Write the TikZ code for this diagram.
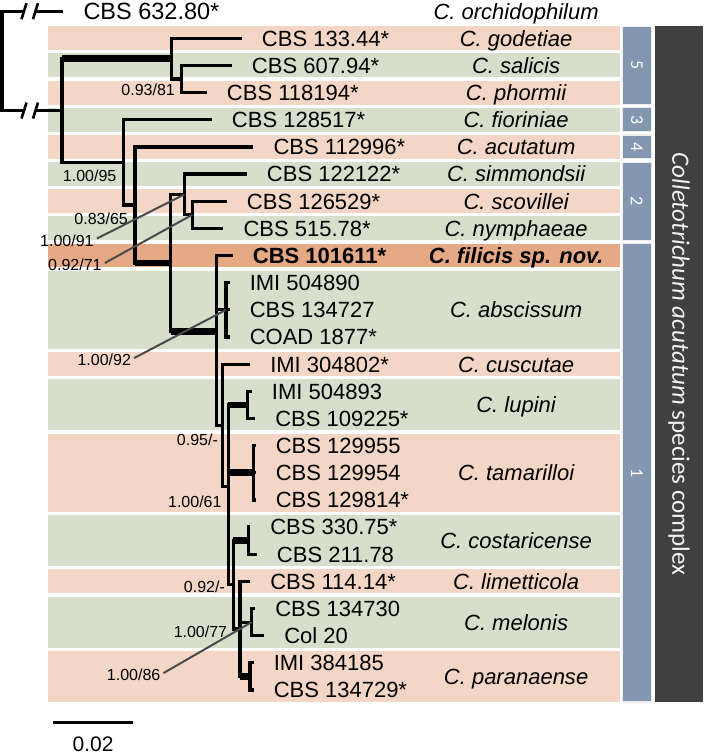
\documentclass[tikz,border=0pt]{standalone}
\usepackage{fontspec}
\setmainfont{Liberation Sans}
\newfontfamily\barfont{Carlito}
\usepackage{xcolor}
\usepackage{tikz}
\usetikzlibrary{positioning}
\definecolor{BandOrange}{RGB}{243,214,197}
\definecolor{BandGreen}{RGB}{215,223,204}
\definecolor{NewOrange}{RGB}{229,169,133}
\definecolor{CladeBlue}{RGB}{132,151,176}
\definecolor{ComplexGrey}{RGB}{64,64,64}
\definecolor{PointerGrey}{RGB}{75,75,75}

\begin{document}
\begin{tikzpicture}[x=1pt,y=-27.15pt,
node distance=20pt,
br/.style={line width=3.2pt},
thk/.style={line width=6.6pt},
brk/.style={line width=2.6pt},
ptr/.style={draw=PointerGrey,line width=2pt},
strain/.style={inner sep=0pt,text height=15.8pt,text depth=0pt,font=\fontsize{22}{26}\selectfont},
taxon/.style={strain,font=\fontsize{22}{26}\selectfont\itshape},
supp/.style={inner sep=0pt,text height=11.5pt,text depth=0pt,font=\fontsize{16}{19}\selectfont},
clade/.style={fill=CladeBlue,draw=black!7,line width=1.2pt},
num/.style={rotate=-90,text=white,font=\barfont\fontsize{18}{20}\selectfont}
]
\useasboundingbox (0,-1.41) rectangle (703,26.43);

% row bands
\fill[BandOrange] (48,-0.44) rectangle (620,0.44);
\fill[BandGreen] (48,0.56) rectangle (620,1.44);
\fill[BandOrange] (48,1.56) rectangle (620,2.44);
\fill[BandGreen] (48,2.56) rectangle (620,3.44);
\fill[BandOrange] (48,3.56) rectangle (620,4.44);
\fill[BandGreen] (48,4.56) rectangle (620,5.44);
\fill[BandOrange] (48,5.56) rectangle (620,6.44);
\fill[BandGreen] (48,6.56) rectangle (620,7.44);
\fill[NewOrange] (48,7.56) rectangle (620,8.44);
\fill[BandGreen] (48,8.56) rectangle (620,11.44);
\fill[BandOrange] (48,11.56) rectangle (620,12.44);
\fill[BandGreen] (48,12.56) rectangle (620,14.44);
\fill[BandOrange] (48,14.56) rectangle (620,17.44);
\fill[BandGreen] (48,17.56) rectangle (620,19.44);
\fill[BandOrange] (48,19.56) rectangle (620,20.44);
\fill[BandGreen] (48,20.56) rectangle (620,22.44);
\fill[BandOrange] (48,22.56) rectangle (620,24.44);

% clade bars
\filldraw[clade] (622.3,-0.44) rectangle (651,2.44);
\filldraw[clade] (622.3,2.56) rectangle (651,3.44);
\filldraw[clade] (622.3,3.56) rectangle (651,4.44);
\filldraw[clade] (622.3,4.56) rectangle (651,7.44);
\filldraw[clade] (622.3,7.56) rectangle (651,24.44);
\node[num] (g5) at (636.7,1) {5};
\node[num] (g3) at (636.7,3) {3};
\node[num] (g4) at (636.7,4) {4};
\node[num] (g2) at (636.7,6) {2};
\node[num] (g1) at (636.7,16) {1};
\fill[ComplexGrey] (654.5,-0.44) rectangle (703,24.44);
\node[rotate=-90,text=black!5,font=\barfont\fontsize{25}{30}\selectfont] (complex) at (679,12) {\textit{Colletotrichum acutatum} species complex};

% internal nodes
\coordinate (root) at (2,0.83);
\coordinate (bk1) at (24,-1); \coordinate (bk2) at (35.5,-1);
\coordinate (bk3) at (24,2.66); \coordinate (bk4) at (35.5,2.66);
\coordinate (n5) at (62,2.66);
\coordinate (s5) at (171.7,0.75);
\coordinate (sp) at (181.7,1.5);
\coordinate (n4) at (123.3,4.57);
\coordinate (n3) at (135,6.14);
\coordinate (n2) at (170.7,8.275);
\coordinate (sm) at (184.3,5.75);
\coordinate (sn) at (192.3,6.5);
\coordinate (v1) at (216.7,10.8);
\coordinate (ab) at (226,10);
\coordinate (v2) at (222.5,14.25);
\coordinate (v3) at (228.3,16.5);
\coordinate (lu) at (247.7,13.5);
\coordinate (ta) at (253.3,16);
\coordinate (v4) at (233.3,20.125);
\coordinate (co) at (248.3,18.5);
\coordinate (v5) at (240,21.75);
\coordinate (me) at (251.7,21.5);
\coordinate (pa) at (250,23.5);

% tips
\coordinate (tout) at (63.3,-1);
\coordinate (t0) at (241.7,0); \coordinate (t1) at (231.7,1); \coordinate (t2) at (206.7,2);
\coordinate (t3) at (211.7,3); \coordinate (t4) at (253.3,4); \coordinate (t5) at (246.7,5);
\coordinate (t6) at (226.7,6); \coordinate (t7) at (223.3,7); \coordinate (t8) at (232.7,8);
\coordinate (t9) at (229.5,9); \coordinate (t10) at (229.5,10); \coordinate (t11) at (229.5,11);
\coordinate (t12) at (250,12); \coordinate (t13) at (251.7,13); \coordinate (t14) at (255,14);
\coordinate (t15) at (255.5,15); \coordinate (t16) at (255.5,16); \coordinate (t17) at (255.5,17);
\coordinate (t18) at (250,18); \coordinate (t19) at (256.7,19); \coordinate (t20) at (250,20);
\coordinate (t21) at (255,21); \coordinate (t22) at (264,22);
\coordinate (t23) at (253.5,23); \coordinate (t24) at (253.5,24);

% branches
\draw[br] (root) |- (bk1); \draw[br] (bk2) -- (tout);
\draw[br] (root) |- (bk3); \draw[br] (bk4) -- (n5);
\draw[brk] ([xshift=-2.5pt,yshift=-8pt]bk1) -- ([xshift=2.5pt,yshift=8pt]bk1);
\draw[brk] ([xshift=-2.5pt,yshift=-8pt]bk2) -- ([xshift=2.5pt,yshift=8pt]bk2);
\draw[brk] ([xshift=-2.5pt,yshift=-8pt]bk3) -- ([xshift=2.5pt,yshift=8pt]bk3);
\draw[brk] ([xshift=-2.5pt,yshift=-8pt]bk4) -- ([xshift=2.5pt,yshift=8pt]bk4);
\draw[br] (n5) |- (s5); \draw[br] (s5) |- (t0); \draw[br] (s5) |- (sp); \draw[br] (sp) |- (t1); \draw[br] (sp) |- (t2);
\draw[br] (n5) |- (n4); \draw[br] (n4) |- (t3); \draw[br] (n4) |- (n3); \draw[br] (n3) |- (t4); \draw[br] (n3) |- (n2);
\draw[br] (n2) |- (sm); \draw[br] (sm) |- (t5); \draw[br] (sm) |- (sn); \draw[br] (sn) |- (t6); \draw[br] (sn) |- (t7);
\draw[br] (n2) |- (v1); \draw[br] (v1) |- (t8); \draw[br] (v1) |- (ab); \draw[br] (v1) |- (v2);
\draw[br] (ab) |- (t9); \draw[br] (ab) |- (t10); \draw[br] (ab) |- (t11);
\draw[br] (v2) |- (t12); \draw[br] (v2) |- (v3);
\draw[br] (v3) |- (lu); \draw[br] (lu) |- (t13); \draw[br] (lu) |- (t14);
\draw[br] (v3) |- (ta); \draw[br] (ta) |- (t15); \draw[br] (ta) |- (t16); \draw[br] (ta) |- (t17);
\draw[br] (v3) |- (v4); \draw[br] (v4) |- (co); \draw[br] (co) |- (t18); \draw[br] (co) |- (t19);
\draw[br] (v4) |- (v5); \draw[br] (v5) |- (t20); \draw[br] (v5) |- (me); \draw[br] (me) |- (t21); \draw[br] (me) |- (t22);
\draw[br] (v5) |- (pa); \draw[br] (pa) |- (t23); \draw[br] (pa) |- (t24);
\draw[thk] (n5 |- s5) -- (s5); \draw[thk] (n3 |- n2) -- (n2); \draw[thk] (n2 |- v1) -- (v1);
\draw[thk] (v3 |- lu) -- (lu); \draw[thk] (v3 |- ta) -- (ta); \draw[thk] (v4 |- co) -- (co); \draw[thk] (v5 |- pa) -- (pa);

% strains
\node[strain,right=of tout,font=\fontsize{23.5}{28}\selectfont] (sout) {CBS 632.80*};
\node[strain,right=of t0] (s0) {CBS 133.44*};
\node[strain,right=of t1] (s1) {CBS 607.94*};
\node[strain,right=of t2] (s2) {CBS 118194*};
\node[strain,right=of t3] (s3) {CBS 128517*};
\node[strain,right=of t4] (s4) {CBS 112996*};
\node[strain,right=of t5] (s5l) {CBS 122122*};
\node[strain,right=of t6] (s6) {CBS 126529*};
\node[strain,right=of t7] (s7) {CBS 515.78*};
\node[strain,right=of t8,font=\fontsize{22}{26}\selectfont\bfseries] (s8) {CBS 101611*};
\node[strain,right=of t9] (s9) {IMI 504890};
\node[strain,right=of t10] (s10) {CBS 134727};
\node[strain,right=of t11] (s11) {COAD 1877*};
\node[strain,right=of t12] (s12) {IMI 304802*};
\node[strain,right=of t13] (s13) {IMI 504893};
\node[strain,right=of t14] (s14) {CBS 109225*};
\node[strain,right=of t15] (s15) {CBS 129955};
\node[strain,right=of t16] (s16) {CBS 129954};
\node[strain,right=of t17] (s17) {CBS 129814*};
\node[strain,right=of t18] (s18) {CBS 330.75*};
\node[strain,right=of t19] (s19) {CBS 211.78};
\node[strain,right=of t20] (s20) {CBS 114.14*};
\node[strain,right=of t21] (s21) {CBS 134730};
\node[strain,right=of t22] (s22) {Col 20};
\node[strain,right=of t23] (s23) {IMI 384185};
\node[strain,right=of t24] (s24) {CBS 134729*};

% species
\node[taxon] (orchidophilum) at (516,-1) {C. orchidophilum};
\node[taxon] (godetiae) at (516,0) {C. godetiae};
\node[taxon] (salicis) at (516,1) {C. salicis};
\node[taxon] (phormii) at (516,2) {C. phormii};
\node[taxon] (fioriniae) at (516,3) {C. fioriniae};
\node[taxon] (acutatum) at (516,4) {C. acutatum};
\node[taxon] (simmondsii) at (516,5) {C. simmondsii};
\node[taxon] (scovillei) at (516,6) {C. scovillei};
\node[taxon] (nymphaeae) at (516,7) {C. nymphaeae};
\node[taxon,font=\fontsize{22}{26}\selectfont\bfseries\itshape] (filicis) at (516,8) {C. filicis sp. nov.};
\node[taxon] (abscissum) at (516,10) {C. abscissum};
\node[taxon] (cuscutae) at (516,12) {C. cuscutae};
\node[taxon] (lupini) at (516,13.5) {C. lupini};
\node[taxon] (tamarilloi) at (516,16) {C. tamarilloi};
\node[taxon] (costaricense) at (516,18.5) {C. costaricense};
\node[taxon] (limetticola) at (516,20) {C. limetticola};
\node[taxon] (melonis) at (516,21.5) {C. melonis};
\node[taxon] (paranaense) at (516,23.5) {C. paranaense};

% support values
\node[supp,anchor=east] (b1) at (175,1.88) {0.93/81};
\node[supp,anchor=west] (b2) at (62.7,5.07) {1.00/95};
\node[supp,anchor=east] (b3) at (128,6.63) {0.83/65};
\node[supp,anchor=west] (b4) at (40,7.45) {1.00/91};
\node[supp,anchor=west] (b5) at (48,8.35) {0.92/71};
\node[supp,anchor=west] (b6) at (77.3,11.85) {1.00/92};
\node[supp,anchor=east] (b7) at (218,14.78) {0.95/-};
\node[supp,anchor=east] (b8) at (221.7,17.07) {1.00/61};
\node[supp,anchor=east] (b9) at (225,20.2) {0.92/-};
\node[supp,anchor=east] (b10) at (227.3,21.86) {1.00/77};
\node[supp,anchor=west] (b11) at (106.7,23.45) {1.00/86};
\draw[ptr] ([xshift=3pt,yshift=2pt]b4.east) -- (sm);
\draw[ptr] ([xshift=3pt,yshift=2pt]b5.east) -- (sn);
\draw[ptr] ([xshift=3pt,yshift=2pt]b6.east) -- (ab);
\draw[ptr] ([xshift=3pt,yshift=2pt]b11.east) -- (me);

% scale bar
\coordinate (sb1) at (53.3,25.21); \coordinate (sb2) at (132.7,25.21);
\draw[br] (sb1) -- (sb2);
\node[strain,text height=15pt,font=\fontsize{21}{24}\selectfont] (sbl) at (93,25.97) {0.02};
\end{tikzpicture}
\end{document}
